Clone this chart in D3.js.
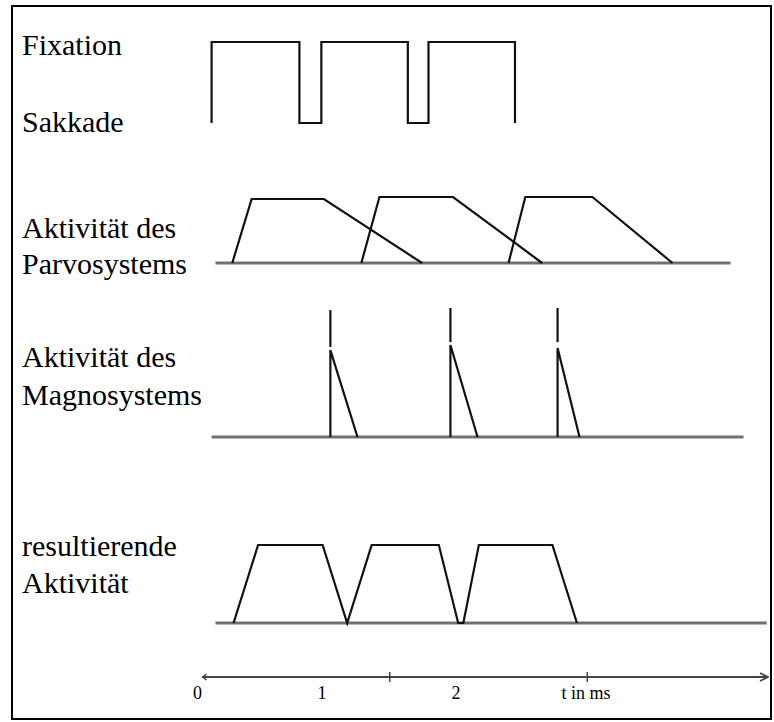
<!DOCTYPE html>
<html>
<head>
<meta charset="utf-8">
<script src="https://cdn.jsdelivr.net/npm/d3@7"></script>
<style>
  html, body { margin: 0; padding: 0; background: #ffffff; }
  svg { display: block; }
</style>
</head>
<body>
<script>
// ---- data (time in ms, level 0..1 per row) ----
const rowLabels = [
  ["Fixation"], ["Sakkade"],
  ["Aktivität des", "Parvosystems"],
  ["Aktivität des", "Magnosystems"],
  ["resultierende", "Aktivität"]
];

// Fixation / Sakkade square wave: [t, level]
const fixationWave = [
  [0.09, 0], [0.09, 1], [0.77, 1], [0.77, 0], [0.94, 0], [0.94, 1],
  [1.61, 1], [1.61, 0], [1.77, 0], [1.77, 1], [2.44, 1], [2.44, 0]
];

// Parvo: three trapezoids (start, top-start, top-end, end, top level)
const parvoStart = [0.25, 1.25, 2.39];
const parvoTopStart = [0.40, 1.39, 2.52];
const parvoTopEnd = [0.96, 1.96, 3.04];
const parvoEnd = [1.72, 2.65, 3.66];
const parvoTop = [0.97, 1.0, 1.0];
const parvoBaseline = [0.12, 4.11];

// Magno: spikes
const magnoT = [1.01, 1.94, 2.77];
const magnoEnd = [1.22, 2.15, 2.94];
const magnoPeak = [0.674, 0.713, 0.69];
const magnoMarkTop = [0.984, 1.0, 1.0];
const magnoMarkBottom = [0.698, 0.736, 0.736];
const magnoBaseline = [0.09, 4.21];

// Resulting activity
const resultWave = [
  [0.26, 0], [0.45, 1], [0.95, 1], [1.14, 0],
  [1.33, 1], [1.85, 1], [2.00, 0], [2.04, 0],
  [2.16, 1], [2.73, 1], [2.92, 0]
];
const resultBaseline = [0.12, 4.39];

// Time axis
const axisRange = [0.02, 4.40];
const axisTicks = [1.47, 3.0];
const axisLabels = ["0", "1", "2", "t in ms"];
const axisLabelT = [-0.02, 0.945, 1.983, 2.99];

// ---- drawing ----
const W = 774, H = 722;
const FONT = "'Liberation Serif', serif";
const svg = d3.select("body").append("svg").attr("width", W).attr("height", H);

svg.append("rect").attr("x", 12).attr("y", 6).attr("width", 759).attr("height", 713)
  .attr("fill", "#fff").attr("stroke", "#000").attr("stroke-width", 2);

const x = d3.scaleLinear().domain([0, 4.4]).range([200, 768]);
const yFix = d3.scaleLinear().domain([0, 1]).range([123, 42]);
const yParvo = d3.scaleLinear().domain([0, 1]).range([263, 197]);
const yMagno = d3.scaleLinear().domain([0, 1]).range([437, 308]);
const yRes = d3.scaleLinear().domain([0, 1]).range([623, 545]);

const line = (ys) => d3.line().x(d => x(d[0])).y(d => ys(d[1]));
const wave = { fill: "none", stroke: "#111", "stroke-width": 2.2, "stroke-linejoin": "miter" };
function styl(sel, o) { Object.entries(o).forEach(([k, v]) => sel.attr(k, v)); return sel; }
const baseStyle = { stroke: "#707070", "stroke-width": 3 };

// labels
const labelY = [[55], [132], [238, 274], [367, 405], [556, 593]];
rowLabels.forEach((lines, i) => {
  lines.forEach((s, j) => {
    svg.append("text").attr("x", 22).attr("y", labelY[i][j])
      .attr("font-family", FONT).attr("fill", "#000")
      .attr("font-size", 30).text(s);
  });
});

// Fixation wave
styl(svg.append("path").datum(fixationWave).attr("d", line(yFix)), wave);

// Parvo baseline + trapezoids
styl(svg.append("line").attr("x1", x(parvoBaseline[0])).attr("x2", x(parvoBaseline[1]))
  .attr("y1", yParvo(0)).attr("y2", yParvo(0)), baseStyle);
parvoStart.forEach((s, i) => {
  const pts = [[s, 0], [parvoTopStart[i], parvoTop[i]], [parvoTopEnd[i], parvoTop[i]], [parvoEnd[i], 0]];
  styl(svg.append("path").datum(pts).attr("d", line(yParvo)), wave);
});

// Magno baseline + spikes
styl(svg.append("line").attr("x1", x(magnoBaseline[0])).attr("x2", x(magnoBaseline[1]))
  .attr("y1", yMagno(0)).attr("y2", yMagno(0)), baseStyle);
magnoT.forEach((t, i) => {
  const pts = [[t, 0], [t, magnoPeak[i]], [magnoEnd[i], 0]];
  styl(svg.append("path").datum(pts).attr("d", line(yMagno)), wave);
  styl(svg.append("path").datum([[t, magnoMarkTop[i]], [t, magnoMarkBottom[i]]]).attr("d", line(yMagno)), wave);
});

// Result
styl(svg.append("line").attr("x1", x(resultBaseline[0])).attr("x2", x(resultBaseline[1]))
  .attr("y1", yRes(0)).attr("y2", yRes(0)), baseStyle);
styl(svg.append("path").datum(resultWave).attr("d", line(yRes)), wave);

// Time axis
const axY = 677;
svg.append("defs").append("marker").attr("id", "arr").attr("viewBox", "0 0 10 10")
  .attr("refX", 9).attr("refY", 5).attr("markerWidth", 10).attr("markerHeight", 10)
  .attr("markerUnits", "userSpaceOnUse").attr("orient", "auto")
  .append("path").attr("d", "M1,1 L9,5 L1,9").attr("fill", "none").attr("stroke", "#444").attr("stroke-width", 1.6);
svg.append("line").attr("x1", x(axisRange[0])).attr("x2", x(axisRange[1]))
  .attr("y1", axY).attr("y2", axY).attr("stroke", "#444").attr("stroke-width", 2)
  .attr("marker-end", "url(#arr)");
// small left end mark
svg.append("path").attr("d", `M${x(axisRange[0]) + 4},${axY - 3} L${x(axisRange[0])},${axY} L${x(axisRange[0]) + 4},${axY + 3}`)
  .attr("fill", "none").attr("stroke", "#444").attr("stroke-width", 1.5);
axisTicks.forEach(t => {
  svg.append("line").attr("x1", x(t)).attr("x2", x(t)).attr("y1", axY - 5).attr("y2", axY + 5)
    .attr("stroke", "#444").attr("stroke-width", 1.5);
});
axisLabels.forEach((s, i) => {
  svg.append("text").attr("x", x(axisLabelT[i])).attr("y", 699).attr("text-anchor", "middle")
    .attr("font-family", FONT).attr("fill", "#000")
    .attr("font-size", 18).text(s);
});
</script>
</body>
</html>
